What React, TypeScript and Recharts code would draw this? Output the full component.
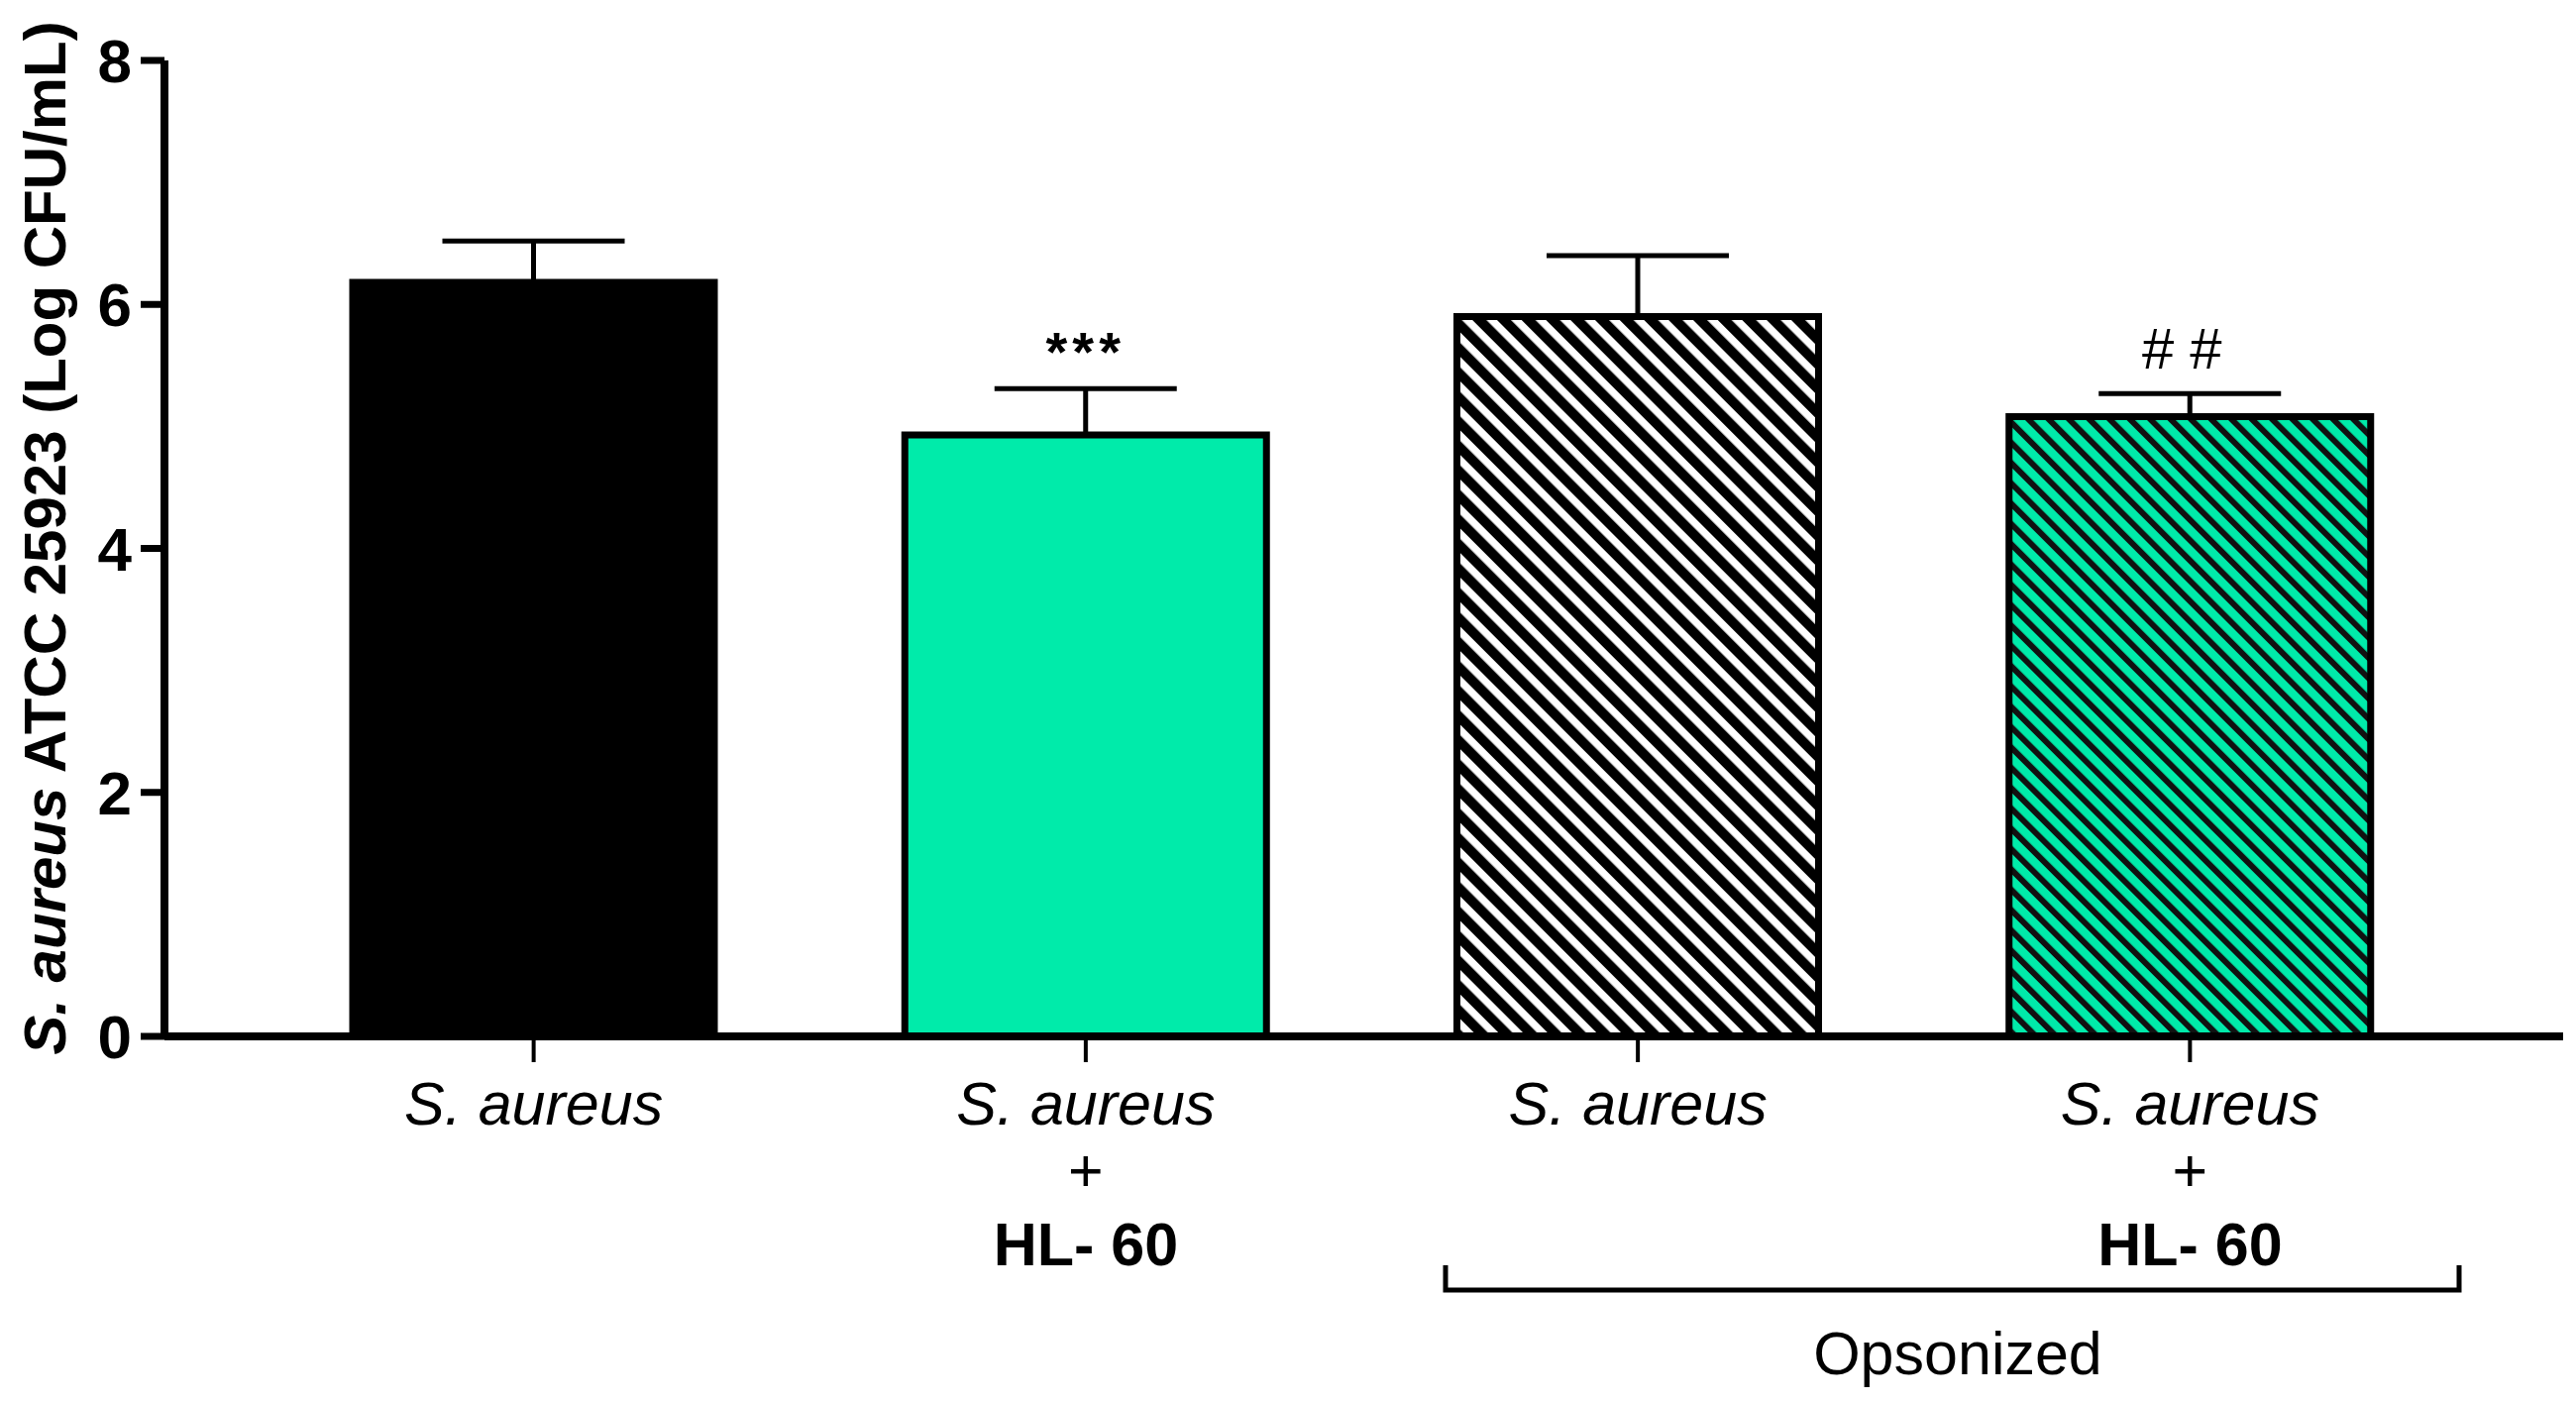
import { BarChart, Bar, XAxis, YAxis, ErrorBar, Cell, LabelList } from 'recharts';

const categories = [
  'S. aureus',
  'S. aureus + HL-60',
  'Opsonized S. aureus',
  'Opsonized S. aureus + HL-60',
];
const tickLines = [
  ['S. aureus'],
  ['S. aureus', '+', 'HL- 60'],
  ['S. aureus'],
  ['S. aureus', '+', 'HL- 60'],
];
const means = [6.18, 4.93, 5.9, 5.08];
const sem = [0.34, 0.38, 0.5, 0.19];
const marks = ['', '***', '', '##'];
const yTicks = [0, 2, 4, 6, 8];

const GREEN = '#00EBAA';
const FONT = '"Liberation Sans", Arial, sans-serif';
const fills = ['#000000', GREEN, 'url(#hatchWhite)', 'url(#hatchGreen)'];

const data = categories.map((name, i) => ({
  name,
  value: means[i],
  err: [0, sem[i]],
  sig: marks[i],
}));

function CategoryTick(props: any) {
  const { x, y, payload, index } = props;
  const i = typeof index === 'number' ? index : categories.indexOf(payload.value);
  const lines = tickLines[i] ?? [payload.value];
  const offsets = [61, 128, 203];
  return (
    <g>
      {lines.map((line, k) => (
        <text
          key={k}
          x={x}
          y={y + offsets[k]}
          textAnchor="middle"
          fontFamily={FONT}
          fontSize={61}
          fontStyle={k === 0 ? 'italic' : 'normal'}
          fontWeight={k === 2 ? 'bold' : 'normal'}
          fill="#000"
        >
          {line}
        </text>
      ))}
    </g>
  );
}

function SigLabel(props: any) {
  const { x, y, width, height, value, index } = props;
  if (!value) return null;
  const perUnit = height / means[index];
  const capY = y - sem[index] * perUnit;
  const star = value.includes('*');
  return (
    <text
      x={x + width / 2}
      y={capY - (star ? 18 : 25)}
      textAnchor="middle"
      fontFamily={FONT}
      fontSize={star ? 56 : 58}
      fontWeight={star ? 'bold' : 'normal'}
      letterSpacing={star ? 5 : 16}
      fill="#000"
    >
      {value}
    </text>
  );
}

function YTitle() {
  return (
    <text
      x={45}
      y={543}
      transform="rotate(-90 45 543)"
      textAnchor="middle"
      dominantBaseline="central"
      fontFamily={FONT}
      fontSize={60}
      fontWeight="bold"
      fill="#000"
    >
      <tspan fontStyle="italic">S. aureus</tspan>
      <tspan> ATCC 25923 (Log CFU/mL)</tspan>
    </text>
  );
}

export default function App() {
  return (
    <div style={{ position: 'absolute', left: 0, top: 0, background: '#fff' }}>
      <BarChart
        width={2600}
        height={1415}
        data={data}
        margin={{ top: 61, right: 13, bottom: 0, left: 0 }}
      >
        <defs>
          <pattern
            id="hatchWhite"
            patternUnits="userSpaceOnUse"
            width={17.5}
            height={17.5}
            patternTransform="rotate(-45)"
          >
            <rect width={17.5} height={17.5} fill="#fff" />
            <rect width={10} height={17.5} fill="#000" />
          </pattern>
          <pattern
            id="hatchGreen"
            patternUnits="userSpaceOnUse"
            width={14.5}
            height={14.5}
            patternTransform="rotate(-45)"
          >
            <rect width={14.5} height={14.5} fill={GREEN} />
            <rect width={6} height={14.5} fill="#111" />
          </pattern>
        </defs>
        <XAxis
          dataKey="name"
          type="category"
          padding={{ left: 94, right: 98 }}
          axisLine={{ stroke: '#000', strokeWidth: 8 }}
          tickLine={{ stroke: '#000', strokeWidth: 4 }}
          tickSize={26}
          tick={<CategoryTick />}
          interval={0}
          height={369}
        />
        <YAxis
          type="number"
          domain={[0, 8]}
          ticks={yTicks}
          width={166}
          axisLine={{ stroke: '#000', strokeWidth: 8 }}
          tickLine={{ stroke: '#000', strokeWidth: 7 }}
          tickSize={24}
          tickMargin={9}
          tick={{ fill: '#000', fontSize: 62, fontWeight: 'bold', fontFamily: FONT }}
          label={{ content: <YTitle /> }}
        />
        <Bar
          dataKey="value"
          barSize={365}
          stroke="#000"
          strokeWidth={7}
          isAnimationActive={false}
        >
          {data.map((d, i) => (
            <Cell key={d.name} fill={fills[i]} />
          ))}
          <ErrorBar
            dataKey="err"
            direction="y"
            width={92}
            stroke="#000"
            strokeWidth={5}
            isAnimationActive={false}
          />
          <LabelList dataKey="sig" content={<SigLabel />} />
        </Bar>
        <g>
          <path
            d="M1459 1277 V1302 H2482 V1277"
            fill="none"
            stroke="#000"
            strokeWidth={5}
          />
          <text
            x={1976}
            y={1387}
            textAnchor="middle"
            fontFamily={FONT}
            fontSize={61}
            fill="#000"
          >
            Opsonized
          </text>
        </g>
      </BarChart>
    </div>
  );
}
